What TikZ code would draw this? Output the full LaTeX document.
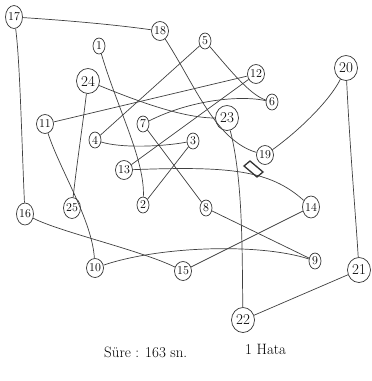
\documentclass[tikz,border=0pt]{standalone}
\usetikzlibrary{shapes.geometric}
\begin{document}
\begin{tikzpicture}[x=1pt,y=-1pt]
\tikzset{
 nd/.style={draw=black!80, ellipse, inner sep=0pt, line width=0.7pt, fill=white, font=\fontsize{12}{12}\selectfont},
 sn/.style={nd, minimum width=12pt, minimum height=16pt},
 mn/.style={nd, minimum width=17pt, minimum height=19pt},
 bn/.style={nd, minimum width=23pt, minimum height=25pt, font=\fontsize{15}{15}\selectfont},
 tr/.style={draw=black!75, line width=0.7pt},
 txt/.style={font=\fontsize{15}{15}\selectfont, anchor=base west, inner sep=0pt}
}
\useasboundingbox (0,0) rectangle (372,381);
\fill[white] (0,0) rectangle (372,381);
% nodes
\node[sn] (n1) at (99,46) {1};
\node[sn] (n2) at (143,205) {2};
\node[sn] (n3) at (193,141) {3};
\node[sn] (n4) at (95,140) {4};
\node[sn] (n5) at (205,41) {5};
\node[sn] (n6) at (272,102) {6};
\node[sn] (n7) at (143,124) {7};
\node[sn] (n8) at (206,208) {8};
\node[sn] (n9) at (315,261) {9};
\node[mn] (n10) at (95,268) {10};
\node[mn] (n11) at (45,124) {11};
\node[mn] (n12) at (256,74) {12};
\node[mn] (n13) at (124,170) {13};
\node[mn, minimum height=22pt] (n14) at (311,207) {14};
\node[mn] (n15) at (183,271) {15};
\node[mn, minimum height=22pt] (n16) at (25,214) {16};
\node[mn, minimum height=23pt] (n17) at (14,17) {17};
\node[mn] (n18) at (160,31) {18};
\node[mn] (n19) at (265,155) {19};
\node[bn] (n20) at (346,68) {20};
\node[bn] (n21) at (359,270) {21};
\node[bn] (n22) at (243,320) {22};
\node[bn] (n23) at (227,118) {23};
\node[bn] (n24) at (88,81) {24};
\node[mn, minimum height=21pt] (n25) at (72,208) {25};
% trail
\draw[tr] (n1) .. controls (118,110) and (145,160) .. (n2);
\draw[tr] (n2) -- (n3);
\draw[tr] (n3) .. controls (160,147) and (120,148) .. (n4);
\draw[tr] (n4) -- (n5);
\draw[tr] (n5) .. controls (230,70) and (250,95) .. (n6);
\draw[tr] (n6) .. controls (240,95) and (190,100) .. (n7);
\draw[tr] (n7) -- (n8);
\draw[tr] (n8) -- (n9);
\draw[tr] (n9) .. controls (260,243) and (160,246) .. (n10);
\draw[tr] (n11) .. controls (60,170) and (92,220) .. (n10);
\draw[tr] (n11) -- (n12);
\draw[tr] (n12) -- (n13);
\draw[tr] (n13) .. controls (230,166) and (270,170) .. (n14);
\draw[tr] (n14) -- (n15);
\draw[tr] (n15) .. controls (140,250) and (60,232) .. (n16);
\draw[tr] (n16) .. controls (22,150) and (20,60) .. (n17);
\draw[tr] (n17) .. controls (60,20) and (110,24) .. (n18);
\draw[tr] (n18) .. controls (195,85) and (215,140) .. (n19);
\draw[tr] (n19) .. controls (300,130) and (330,100) .. (n20);
\draw[tr] (n20) .. controls (350,150) and (356,220) .. (n21);
\draw[tr] (n21) -- (n22);
\draw[tr] (n22) .. controls (242,250) and (243,180) .. (n23);
\draw[tr] (n23) .. controls (180,118) and (130,98) .. (n24);
\draw[tr] (n24) .. controls (82,130) and (76,170) .. (n25);
% correction mark near 19
\draw[line width=1.3pt, black!80] (244,166) -- (250,161) -- (263,172) -- (257,177) -- cycle;
% caption
\node[txt] (t1) at (104,357) {Süre : 163 sn.};
\node[txt] (t2) at (245,354) {1 Hata};
\end{tikzpicture}
\end{document}
